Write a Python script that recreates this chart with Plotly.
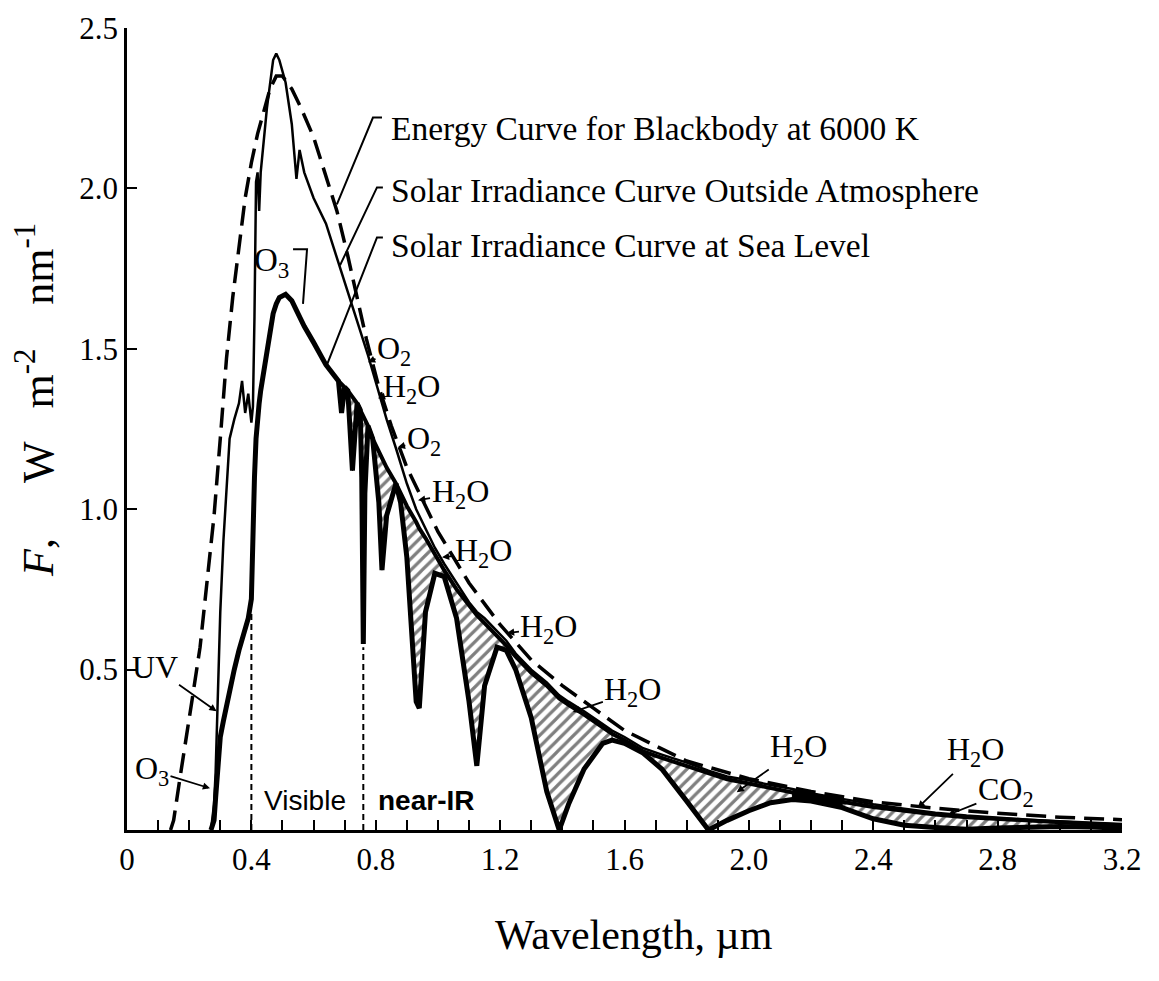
import numpy as np
import plotly.graph_objects as go

# ---------------- data ----------------
# common wavelength grid (µm) for the solar curves
wl = [0.27, 0.28, 0.285, 0.29, 0.295, 0.30, 0.31, 0.32, 0.33, 0.345, 0.36, 0.37, 0.38, 0.39,
      0.40, 0.405, 0.41, 0.415, 0.42, 0.425, 0.43, 0.45, 0.47, 0.48, 0.49, 0.51, 0.53, 0.545,
      0.555, 0.57, 0.60, 0.64, 0.68, 0.69, 0.70, 0.71, 0.725, 0.74, 0.75, 0.755, 0.76, 0.765,
      0.775, 0.79, 0.81, 0.82, 0.835, 0.865, 0.88, 0.90, 0.93, 0.94, 0.96, 0.99, 1.02, 1.06,
      1.10, 1.125, 1.15, 1.19, 1.22, 1.25, 1.30, 1.35, 1.39, 1.42, 1.47, 1.53, 1.56, 1.60,
      1.66, 1.72, 1.80, 1.87, 1.93, 2.00, 2.07, 2.14, 2.20, 2.30, 2.40, 2.50, 2.60, 2.70,
      2.80, 2.90, 3.00, 3.10, 3.20]

# solar irradiance outside the atmosphere (W m-2 nm-1)
outside = [0.00, 0.08, 0.18, 0.35, 0.55, 0.68, 0.90, 1.08, 1.22, 1.28, 1.33, 1.40, 1.30, 1.36,
           1.27, 1.32, 1.60, 2.02, 2.05, 1.93, 2.05, 2.25, 2.40, 2.42, 2.40, 2.33, 2.20, 2.03,
           2.12, 2.05, 1.97, 1.89, 1.77, 1.74, 1.71, 1.68, 1.63, 1.59, 1.56, 1.54, 1.53, 1.51,
           1.48, 1.43, 1.36, 1.33, 1.28, 1.19, 1.14, 1.08, 1.00, 0.98, 0.94, 0.88, 0.83, 0.77,
           0.71, 0.68, 0.66, 0.62, 0.59, 0.55, 0.50, 0.46, 0.42, 0.40, 0.37, 0.33, 0.31, 0.29,
           0.255, 0.235, 0.21, 0.185, 0.167, 0.155, 0.14, 0.128, 0.115, 0.097, 0.08, 0.066, 0.054, 0.045,
           0.038, 0.032, 0.027, 0.023, 0.019]

# solar irradiance at sea level, with absorption dips (W m-2 nm-1)
sea = [0.00, 0.03, 0.10, 0.18, 0.25, 0.29, 0.34, 0.39, 0.44, 0.50, 0.56, 0.59, 0.62, 0.66,
       0.72, 0.95, 1.10, 1.22, 1.29, 1.33, 1.37, 1.50, 1.61, 1.64, 1.66, 1.67, 1.65, 1.62,
       1.60, 1.57, 1.52, 1.45, 1.40, 1.30, 1.38, 1.37, 1.12, 1.33, 1.31, 1.10, 0.58, 1.05,
       1.26, 1.22, 1.02, 0.81, 0.98, 1.08, 1.02, 0.85, 0.40, 0.38, 0.68, 0.80, 0.79, 0.66,
       0.40, 0.20, 0.45, 0.57, 0.56, 0.50, 0.35, 0.12, 0.00, 0.08, 0.19, 0.27, 0.28, 0.27,
       0.24, 0.19, 0.09, 0.00, 0.03, 0.06, 0.085, 0.095, 0.09, 0.07, 0.035, 0.015, 0.008, 0.002,
       0.006, 0.009, 0.011, 0.009, 0.006]

# sea-level continuum: upper edge of the shaded absorption bands (W m-2 nm-1)
sea_clear = [0.00, 0.03, 0.10, 0.18, 0.25, 0.29, 0.34, 0.39, 0.44, 0.50, 0.56, 0.59, 0.62, 0.66,
             0.72, 0.95, 1.10, 1.22, 1.29, 1.33, 1.37, 1.50, 1.61, 1.64, 1.66, 1.67, 1.65, 1.62,
             1.60, 1.57, 1.52, 1.45, 1.40, 1.39, 1.38, 1.37, 1.35, 1.33, 1.31, 1.30, 1.29, 1.28,
             1.26, 1.22, 1.18, 1.16, 1.13, 1.08, 1.05, 1.01, 0.96, 0.94, 0.91, 0.86, 0.81, 0.75,
             0.70, 0.67, 0.645, 0.605, 0.575, 0.54, 0.49, 0.45, 0.41, 0.39, 0.36, 0.32, 0.30, 0.28,
             0.245, 0.225, 0.20, 0.175, 0.158, 0.145, 0.13, 0.118, 0.105, 0.088, 0.072, 0.06, 0.048, 0.04,
             0.034, 0.028, 0.023, 0.019, 0.015]

# blackbody curve at 6000 K (scaled)
bb_wl = [0.14, 0.15, 0.17, 0.19, 0.21, 0.235, 0.26, 0.28, 0.30, 0.32, 0.34, 0.36, 0.38, 0.40,
         0.42, 0.44, 0.46, 0.48, 0.50, 0.53, 0.56, 0.60, 0.645, 0.675, 0.71, 0.74, 0.77, 0.81,
         0.85, 0.90, 0.95, 1.0, 1.1, 1.2, 1.3, 1.4, 1.5, 1.6, 1.8, 2.0, 2.2, 2.4, 2.6, 2.8,
         3.0, 3.2]
bb = [0.0, 0.03, 0.16, 0.28, 0.41, 0.57, 0.79, 0.98, 1.22, 1.47, 1.66, 1.82, 1.97, 2.08,
      2.17, 2.24, 2.31, 2.35, 2.35, 2.31, 2.25, 2.16, 2.02, 1.93, 1.79, 1.66, 1.53, 1.38,
      1.26, 1.13, 1.03, 0.93, 0.77, 0.64, 0.53, 0.45, 0.38, 0.31, 0.215, 0.16, 0.12, 0.088,
      0.068, 0.052, 0.04, 0.032]

# absorption bands (µm), hatched between continuum and sea-level curve
bands = [(0.68, 0.70), (0.71, 0.74), (0.75, 0.775), (0.79, 0.865), (0.88, 1.02),
         (1.02, 1.22), (1.25, 1.56), (1.66, 2.14), (2.30, 3.20)]
dense_band = (2.14, 2.30)

# spectral region boundaries (µm) and the height of their dashed markers
region_bounds = [0.40, 0.76]
region_tops = [0.68, 0.57]

x_ticks = [0, 0.4, 0.8, 1.2, 1.6, 2.0, 2.4, 2.8, 3.2]
x_ticktext = ["0", "0.4", "0.8", "1.2", "1.6", "2.0", "2.4", "2.8", "3.2"]
y_ticks = [0.5, 1.0, 1.5, 2.0, 2.5]
y_ticktext = ["0.5", "1.0", "1.5", "2.0", "2.5"]

assert len(wl) == len(outside) == len(sea) == len(sea_clear)
assert len(bb_wl) == len(bb)

# ---------------- figure ----------------
SERIF = "Liberation Serif, Times New Roman, serif"
SANS = "Liberation Sans, Arial, sans-serif"

wl_a = np.array(wl)
out_a = np.array(outside)
sea_a = np.array(sea)
clr_a = np.array(sea_clear)

fig = go.Figure()


def band_poly(lo, hi, upper):
    m = (wl_a >= lo - 1e-9) & (wl_a <= hi + 1e-9)
    xs = np.concatenate([wl_a[m], wl_a[m][::-1]])
    ys = np.concatenate([upper[m], sea_a[m][::-1]])
    return xs, ys


for lo, hi in bands:
    xs, ys = band_poly(lo, hi, clr_a)
    fig.add_trace(go.Scatter(
        x=xs, y=ys, mode="lines", fill="toself",
        line=dict(color="black", width=1),
        fillcolor="white",
        fillpattern=dict(shape="/", fgcolor="black", bgcolor="white", size=8, solidity=0.4),
        hoverinfo="skip", showlegend=False))

xs, ys = band_poly(dense_band[0], dense_band[1], out_a)
fig.add_trace(go.Scatter(x=xs, y=ys, mode="lines", fill="toself",
                         line=dict(color="black", width=1), fillcolor="black",
                         hoverinfo="skip", showlegend=False))

for xb, top in zip(region_bounds, region_tops):
    fig.add_trace(go.Scatter(x=[xb, xb], y=[0, top], mode="lines",
                             line=dict(color="black", width=2, dash="6px,4px"),
                             hoverinfo="skip", showlegend=False))

fig.add_trace(go.Scatter(x=bb_wl, y=bb, mode="lines", name="Blackbody 6000 K",
                         line=dict(color="black", width=3.5, dash="20px,9px"),
                         showlegend=False))
fig.add_trace(go.Scatter(x=wl, y=outside, mode="lines", name="Outside atmosphere",
                         line=dict(color="black", width=2.5), showlegend=False))
nir = wl_a >= 0.68
fig.add_trace(go.Scatter(x=wl_a[nir], y=clr_a[nir], mode="lines", name="Sea-level continuum",
                         line=dict(color="black", width=4), showlegend=False))
fig.add_trace(go.Scatter(x=wl, y=sea, mode="lines", name="Sea level",
                         line=dict(color="black", width=5), showlegend=False))

# ---------------- annotations ----------------
ann = []
curve_labels = [
    ("Energy Curve for Blackbody at 6000 K", 2.187),
    ("Solar Irradiance Curve Outside Atmosphere", 1.994),
    ("Solar Irradiance Curve at Sea Level", 1.822),
]
for txt, yy in curve_labels:
    ann.append(dict(x=0.843, y=yy, xref="x", yref="y", text=txt, showarrow=False,
                    xanchor="left", yanchor="middle",
                    font=dict(family=SERIF, size=33.5, color="black")))

shapes = []
leaders = [
    [(0.820, 2.221), (0.791, 2.221), (0.675, 1.95)],
    [(0.823, 2.003), (0.804, 2.003), (0.685, 1.76)],
    [(0.823, 1.847), (0.804, 1.847), (0.643, 1.45)],
    [(0.534, 1.81), (0.579, 1.81), (0.566, 1.64)],
]
for pts in leaders:
    path = "M " + " L ".join(f"{px},{py}" for px, py in pts)
    shapes.append(dict(type="path", path=path, xref="x", yref="y",
                       line=dict(color="black", width=2)))

ann.append(dict(x=0.465, y=1.77, xref="x", yref="y", text="O<sub>3</sub>", showarrow=False,
                xanchor="center", yanchor="middle",
                font=dict(family=SERIF, size=33, color="black")))

species = [
    ("O<sub>2</sub>", 0.775, 1.458, 26, -12),
    ("H<sub>2</sub>O", 0.807, 1.346, 34, -10),
    ("O<sub>2</sub>", 0.871, 1.193, 26, -7),
    ("H<sub>2</sub>O", 0.936, 1.028, 42, -7),
    ("H<sub>2</sub>O", 1.013, 0.850, 42, -5),
    ("H<sub>2</sub>O", 1.222, 0.614, 42, -5),
    ("H<sub>2</sub>O", 1.434, 0.368, 60, -20),
    ("H<sub>2</sub>O", 1.961, 0.118, 62, -44),
    ("H<sub>2</sub>O", 2.543, 0.069, 58, -56),
    ("CO<sub>2</sub>", 2.640, 0.047, 58, -23),
    ("UV", 0.288, 0.37, -62, -44),
    ("O<sub>3</sub>", 0.267, 0.13, -58, -18),
]
for txt, xx, yy, ax, ay in species:
    ann.append(dict(x=xx, y=yy, xref="x", yref="y", text=txt, showarrow=True,
                    ax=ax, ay=ay, arrowhead=2, arrowsize=0.8, arrowwidth=1.8,
                    arrowcolor="black",
                    font=dict(family=SERIF, size=32, color="black")))

ann.append(dict(x=0.572, y=0.093, xref="x", yref="y", text="Visible", showarrow=False,
                xanchor="center", yanchor="middle",
                font=dict(family=SANS, size=28, color="black")))
ann.append(dict(x=0.96, y=0.093, xref="x", yref="y", text="<b>near-IR</b>", showarrow=False,
                xanchor="center", yanchor="middle",
                font=dict(family=SANS, size=28, color="black")))

# page body has an 8 px margin, so the figure is drawn 8 px smaller and offset
W, H = 1151, 973
L, R, T, B = 119, 37, 20, 151
pw, ph = W - L - R, H - T - B

NB = "\u00a0"
ann.append(dict(x=(626 - L) / pw, y=(H - B - 927) / ph, xref="paper", yref="paper",
                text="Wavelength, µm", showarrow=False,
                xanchor="center", yanchor="middle",
                font=dict(family=SERIF, size=42, color="black")))
ann.append(dict(x=(27 - L) / pw, y=(H - B - 392) / ph, xref="paper", yref="paper",
                text=f"<i>F</i>,{NB*5}W{NB*3}m<sup>-2</sup>{NB*4}nm<sup>-1</sup>",
                showarrow=False, textangle=-90, xanchor="center", yanchor="middle",
                font=dict(family=SERIF, size=44, color="black")))

fig.update_layout(
    width=W, height=H,
    margin=dict(l=L, r=R, t=T, b=B, autoexpand=False),
    plot_bgcolor="white", paper_bgcolor="white",
    annotations=ann, shapes=shapes,
    xaxis=dict(range=[0, 3.2], tickvals=x_ticks, ticktext=x_ticktext,
               showgrid=False, zeroline=False, showline=True, linecolor="black",
               linewidth=3, ticks="inside", ticklen=10, tickwidth=2, tickcolor="black",
               minor=dict(dtick=0.1, ticks="inside", ticklen=10, tickwidth=2,
                          tickcolor="black", showgrid=False),
               tickfont=dict(family=SERIF, size=31, color="black")),
    yaxis=dict(range=[0, 2.5], tickvals=y_ticks, ticktext=y_ticktext,
               showgrid=False, zeroline=False, showline=True, linecolor="black",
               linewidth=2.5, ticks="inside", ticklen=10, tickwidth=2, tickcolor="black",
               tickfont=dict(family=SERIF, size=31, color="black")),
)

fig.write_html("out.html")
